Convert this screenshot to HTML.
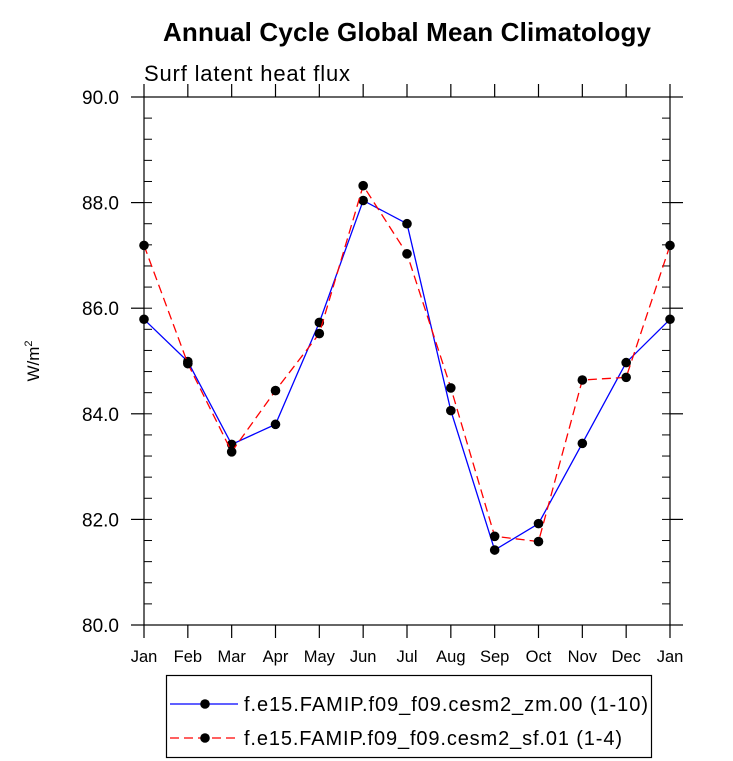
<!DOCTYPE html>
<html><head><meta charset="utf-8"><style>
body{margin:0;background:#fff;}
svg{display:block;font-family:"Liberation Sans",sans-serif;}
</style></head><body>
<svg id="chart" width="733" height="761">
<text x="407" y="41" text-anchor="middle" font-size="26" font-weight="bold" textLength="488">Annual Cycle Global Mean Climatology</text>
<text x="144" y="81" font-size="22" textLength="206">Surf latent heat flux</text>
<text transform="translate(39,361) rotate(-90)" text-anchor="middle" font-size="17">W/m<tspan dy="-7" font-size="11">2</tspan></text>
<g id="axes"></g>
<g id="series"></g>
<g>
<rect x="166.5" y="675.5" width="485" height="82" fill="none" stroke="#000" stroke-width="1.2"/>
<g>
<line x1="170" y1="704" x2="238" y2="704" stroke="#0000ff" stroke-width="1.3"/>
<circle cx="205" cy="704" r="4.8" fill="#000"/>
<text x="244" y="711" font-size="20" textLength="404">f.e15.FAMIP.f09_f09.cesm2_zm.00 (1-10)</text></g>
<g>
<line x1="170" y1="738" x2="238" y2="738" stroke="#ff0000" stroke-width="1.3" stroke-dasharray="9,5"/>
<circle cx="205" cy="738" r="4.8" fill="#000"/>
<text x="244" y="745" font-size="20" textLength="378">f.e15.FAMIP.f09_f09.cesm2_sf.01 (1-4)</text></g>
</g>
</svg>
<script>
const months=["Jan","Feb","Mar","Apr","May","Jun","Jul","Aug","Sep","Oct","Nov","Dec","Jan"];
const yTicks=[80,82,84,86,88,90];
const yTickLabels=["80.0","82.0","84.0","86.0","88.0","90.0"];
const zmValues=[85.79,84.99,83.42,83.80,85.73,88.04,87.60,84.06,81.42,81.92,83.44,84.97,85.79];
const sfValues=[87.19,84.95,83.28,84.44,85.52,88.32,87.03,84.49,81.68,81.58,84.64,84.69,87.19];
const X0=144,X1=670,Y0=625,Y1=97,YMIN=80,YMAX=90;
const xs=i=>X0+(X1-X0)*i/(months.length-1);
const ys=v=>Y0-(v-YMIN)/(YMAX-YMIN)*(Y0-Y1);
const NS="http://www.w3.org/2000/svg";
function mk(t,a,p){const e=document.createElementNS(NS,t);for(const k in a)e.setAttribute(k,a[k]);p.appendChild(e);return e;}
const ax=document.getElementById('axes');
const fr=mk('rect',{x:X0,y:Y1,width:X1-X0,height:Y0-Y1,fill:'none',stroke:'#000','stroke-width':1.2},ax);


months.forEach((m,i)=>{const x=xs(i);
mk('line',{x1:x,y1:Y0,x2:x,y2:Y0+13,stroke:'#000','stroke-width':1.2},ax);
mk('line',{x1:x,y1:Y1,x2:x,y2:Y1-13,stroke:'#000','stroke-width':1.2},ax);
const t=mk('text',{x:x,y:Y0+37,'text-anchor':'middle','font-size':16.5},ax);t.textContent=m;

});
for(let v=YMIN;v<=YMAX+1e-9;v+=0.4){const y=ys(v);
mk('line',{x1:X0,y1:y,x2:X0+8,y2:y,stroke:'#000','stroke-width':1},ax);
mk('line',{x1:X1,y1:y,x2:X1-8,y2:y,stroke:'#000','stroke-width':1},ax);}
yTicks.forEach((v,i)=>{const y=ys(v);
mk('line',{x1:X0-13,y1:y,x2:X0,y2:y,stroke:'#000','stroke-width':1.2},ax);
mk('line',{x1:X1,y1:y,x2:X1+13,y2:y,stroke:'#000','stroke-width':1.2},ax);
const t=mk('text',{x:119,y:y+7,'text-anchor':'end','font-size':19},ax);t.textContent=yTickLabels[i];

});
const sg=document.getElementById('series');
function series(vals,color,dash,name){
const g=mk('g',{},sg);


const a={points:vals.map((v,i)=>xs(i)+','+ys(v)).join(' '),fill:'none',stroke:color,'stroke-width':1.3};
if(dash)a['stroke-dasharray']=dash;
const l=mk('polyline',a,g);


vals.forEach((v,i)=>{const c=mk('circle',{cx:xs(i),cy:ys(v),r:4.8,fill:'#000'},g);

});}
series(zmValues,'#0000ff',null,'series-zm');
series(sfValues,'#ff0000','9,5','series-sf');
</script>
</body></html>
